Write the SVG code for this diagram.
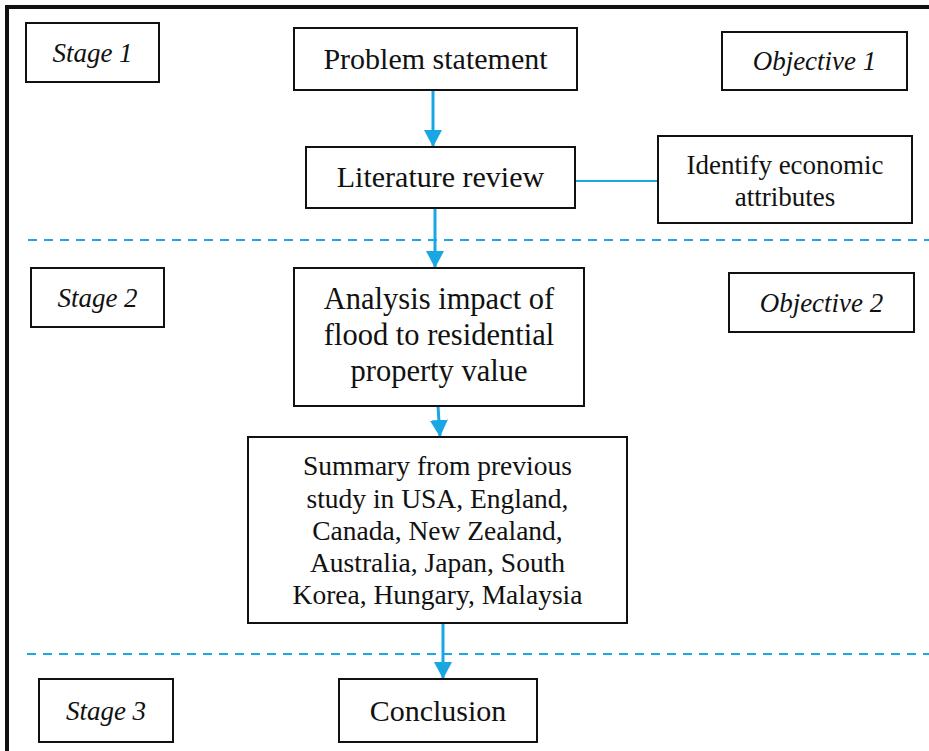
<svg xmlns="http://www.w3.org/2000/svg" width="929" height="751" viewBox="0 0 929 751">
<defs>
<marker id="ah" markerUnits="userSpaceOnUse" markerWidth="17" markerHeight="18" viewBox="0 0 17 18" refX="17" refY="9" orient="auto">
<path d="M0,0 L17,9 L0,18 z" fill="#19A7E4"/>
</marker>
<style>
.box{fill:#fff;stroke:#111;stroke-width:2}
.t{font-family:'Liberation Serif','Times New Roman',Times,'DejaVu Serif',serif;fill:#111;text-anchor:middle}
.it{font-style:italic;font-size:27px}
.arrow{stroke:#19A7E4;stroke-width:3;fill:none;marker-end:url(#ah)}
.link{stroke:#19A7E4;stroke-width:2;fill:none}
.dash{stroke:#19A7E4;stroke-width:2.2;stroke-dasharray:9 7;fill:none}
</style>
</defs>
<rect width="929" height="751" fill="#fff"/>
<path d="M7,751 V7 H929" fill="none" stroke="#111" stroke-width="4"/>

<g id="separators">
<line class="dash" x1="28" y1="240" x2="929" y2="240"/>
<line class="dash" x1="27" y1="654" x2="929" y2="654"/>
</g>

<g id="connectors">
<line class="arrow" x1="433" y1="90" x2="433" y2="147"/>
<line class="arrow" x1="435" y1="208" x2="435" y2="268"/>
<line class="arrow" x1="438" y1="406" x2="440" y2="437"/>
<line class="arrow" x1="443" y1="623" x2="443" y2="679"/>
<line class="link" x1="575" y1="181" x2="658" y2="181"/>
</g>

<g font-family="Liberation Serif, Times New Roman, serif">
<g id="stage1">
<rect class="box" x="26" y="23" width="133" height="59"/>
<text class="t it" x="92.5" y="62">Stage 1</text>
</g>
<g id="objective1">
<rect class="box" x="722" y="32" width="185" height="58"/>
<text class="t it" x="814.5" y="70">Objective 1</text>
</g>
<g id="problem">
<rect class="box" x="294" y="28" width="283" height="62"/>
<text class="t" x="435.5" y="69" font-size="30">Problem statement</text>
</g>
<g id="literature">
<rect class="box" x="306" y="147" width="269" height="61"/>
<text class="t" x="440.5" y="187" font-size="30">Literature review</text>
</g>
<g id="identify">
<rect class="box" x="658" y="136" width="254" height="87"/>
<text class="t" x="785" y="174" font-size="27">Identify economic</text>
<text class="t" x="785" y="206" font-size="27">attributes</text>
</g>
<g id="stage2">
<rect class="box" x="31" y="268" width="133" height="59"/>
<text class="t it" x="97.5" y="307">Stage 2</text>
</g>
<g id="objective2">
<rect class="box" x="729" y="273" width="185" height="59"/>
<text class="t it" x="821.5" y="312">Objective 2</text>
</g>
<g id="analysis">
<rect class="box" x="294" y="268" width="290" height="138"/>
<text class="t" x="439" y="309" font-size="30.5">Analysis impact of</text>
<text class="t" x="439" y="345" font-size="30.5">flood to residential</text>
<text class="t" x="439" y="381" font-size="30.5">property value</text>
</g>
<g id="summary">
<rect class="box" x="248" y="437" width="379" height="186"/>
<text class="t" x="437.5" y="475" font-size="27.5">Summary from previous</text>
<text class="t" x="437.5" y="508" font-size="27.5">study in USA, England,</text>
<text class="t" x="437.5" y="540" font-size="27.5">Canada, New Zealand,</text>
<text class="t" x="437.5" y="572" font-size="27.5">Australia, Japan, South</text>
<text class="t" x="437.5" y="604" font-size="27.5">Korea, Hungary, Malaysia</text>
</g>
<g id="stage3">
<rect class="box" x="39" y="679" width="134" height="63"/>
<text class="t it" x="106" y="720">Stage 3</text>
</g>
<g id="conclusion">
<rect class="box" x="339" y="679" width="198" height="63"/>
<text class="t" x="438" y="721" font-size="30">Conclusion</text>
</g>
</g>
</svg>
